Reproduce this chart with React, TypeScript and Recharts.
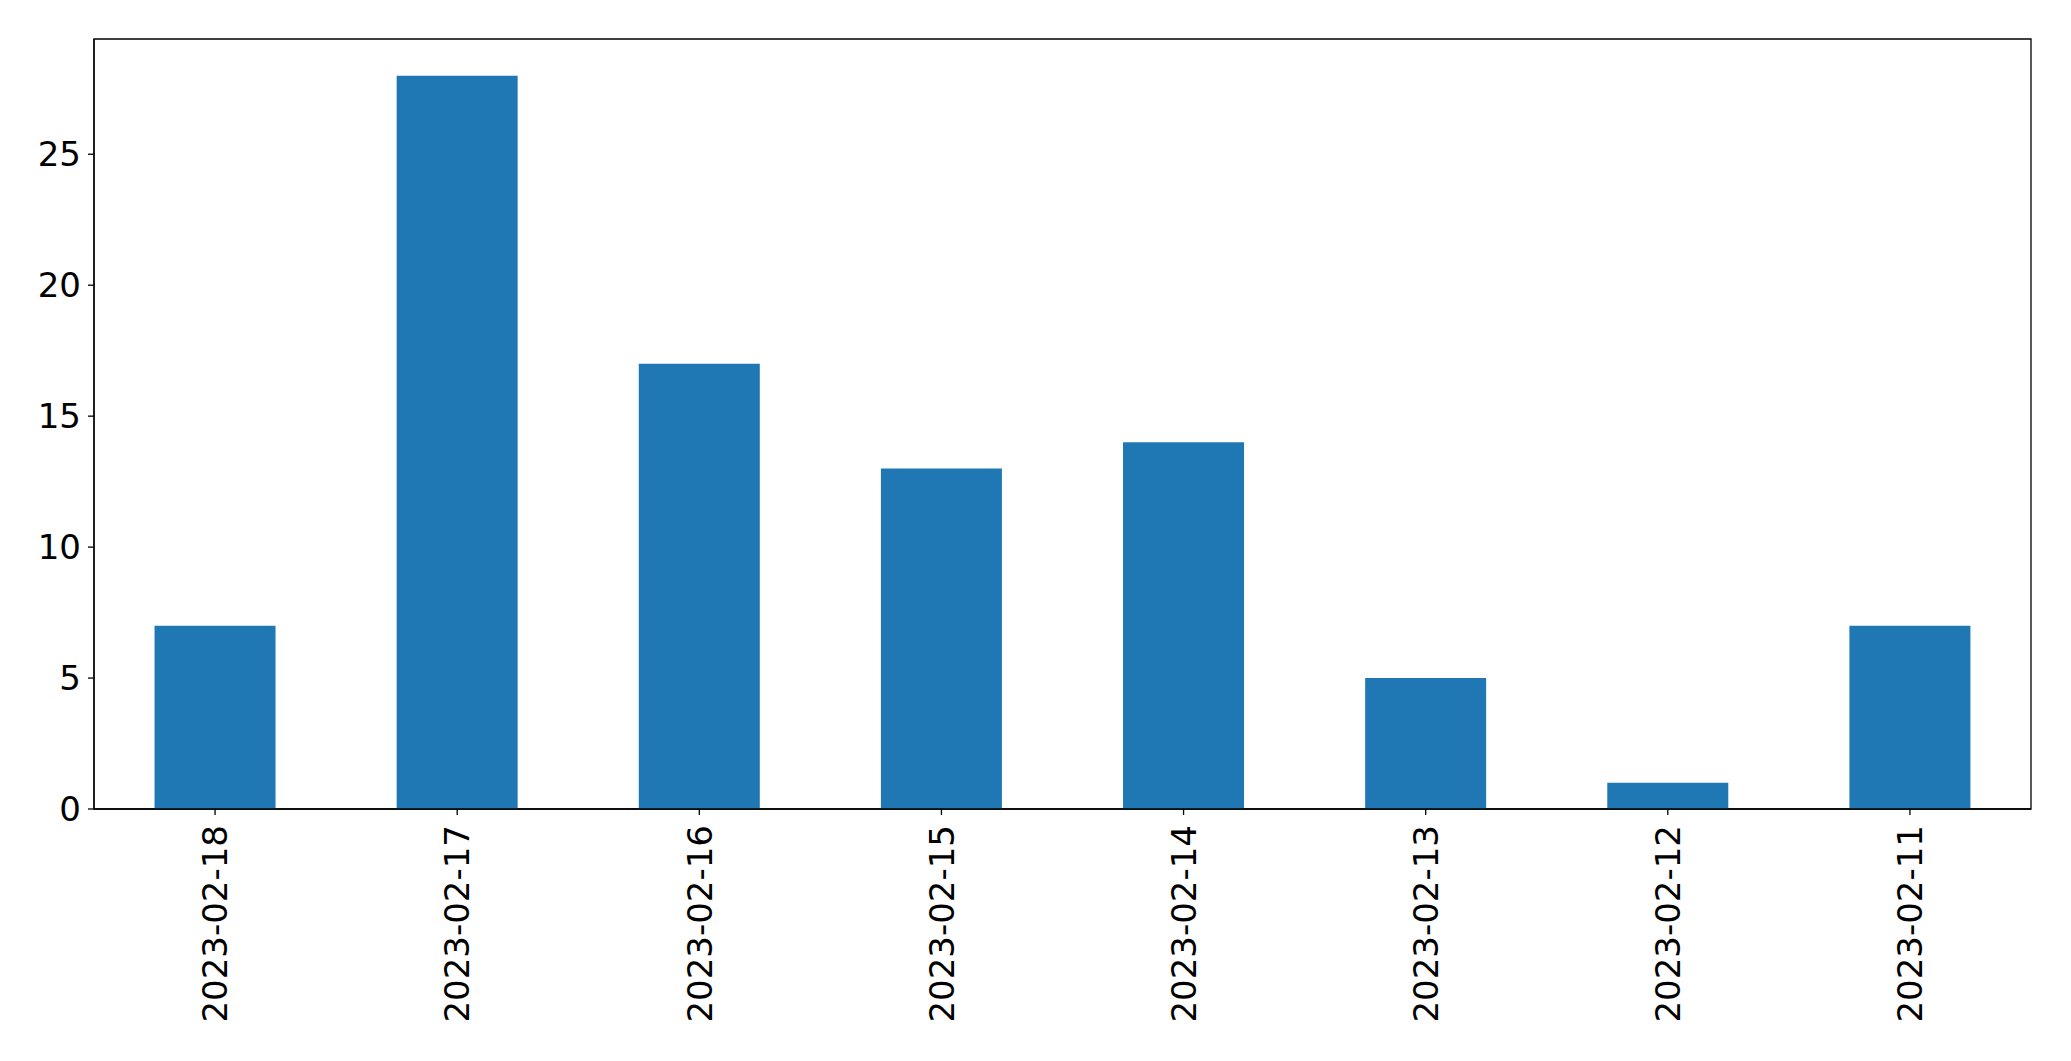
import React from 'react';
import { BarChart, Bar, XAxis, YAxis, ReferenceArea } from 'recharts';

const dates = ['2023-02-18', '2023-02-17', '2023-02-16', '2023-02-15', '2023-02-14', '2023-02-13', '2023-02-12', '2023-02-11'];
const counts = [7, 28, 17, 13, 14, 5, 1, 7];
const yTicks = [0, 5, 10, 15, 20, 25];
const yMax = 29.4;

const data = dates.map((d, i) => ({ date: d, count: counts[i] }));

const FONT = 'DejaVu Sans';

const RotTick = (props: any) => {
  const { x, y, payload } = props;
  return (
    <text
      x={x}
      y={y}
      transform={`rotate(-90 ${x} ${y})`}
      textAnchor="end"
      dy="0.36em"
      fontSize={34}
      fontFamily={FONT}
      fill="#000"
    >
      {payload.value}
    </text>
  );
};

export default function App() {
  return (
    <div style={{ position: 'absolute', left: 0, top: 0, background: '#fff' }}>
      <BarChart
        width={2071}
        height={1061}
        data={data}
        margin={{ top: 39, right: 40, left: 0, bottom: 0 }}
        barCategoryGap="25%"
      >
        <XAxis
          dataKey="date"
          height={252}
          interval={0}
          tickSize={6}
          tickMargin={10}
          tick={<RotTick />}
          axisLine={{ stroke: '#000', strokeWidth: 1.3 }}
          tickLine={{ stroke: '#000', strokeWidth: 1.3 }}
        />
        <YAxis
          width={94}
          domain={[0, yMax]}
          ticks={yTicks}
          allowDataOverflow
          tickSize={6}
          tickMargin={7}
          tick={{ fontSize: 34, fontFamily: FONT, fill: '#000' }}
          axisLine={{ stroke: '#000', strokeWidth: 1.3 }}
          tickLine={{ stroke: '#000', strokeWidth: 1.3 }}
        />
        <Bar dataKey="count" fill="#1f77b4" isAnimationActive={false} />
        <ReferenceArea
          y1={0}
          y2={yMax}
          fill="none"
          fillOpacity={0}
          stroke="#000"
          strokeWidth={1.3}
          ifOverflow="visible"
        />
      </BarChart>
    </div>
  );
}
